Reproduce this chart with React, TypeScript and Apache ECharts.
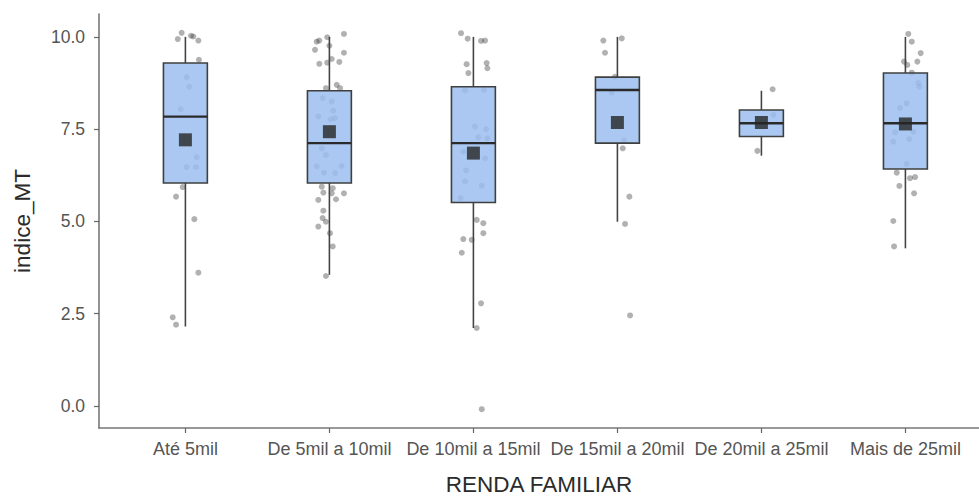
import React, { useEffect, useRef } from "react";
import * as echarts from "echarts";

const categories = ["Até 5mil", "De 5mil a 10mil", "De 10mil a 15mil", "De 15mil a 20mil", "De 20mil a 25mil", "Mais de 25mil"];
const yTicks = [0, 2.5, 5, 7.5, 10];

// box stats: [lower whisker, Q1, median, Q3, upper whisker]
const boxStats = [
  [2.15, 6.04, 7.84, 9.29, 10.0],
  [3.55, 6.04, 7.12, 8.54, 10.0],
  [2.11, 5.51, 7.12, 8.65, 10.0],
  [4.99, 7.12, 8.56, 8.91, 10.0],
  [6.78, 7.3, 7.66, 8.02, 8.54],
  [4.27, 6.42, 7.66, 9.02, 10.0],
];
const means = [7.21, 7.43, 6.85, 7.68, 7.68, 7.64];

// jittered observations (values) and horizontal jitter (in category units)
const pts1 = [10.11, 9.94, 10.03, 10.01, 9.9, 9.38, 8.91, 8.65, 8.04, 6.74, 6.47, 6.47, 5.93, 5.67, 5.06, 3.61, 2.4, 2.2];
const jit1 = [-0.026, -0.053, 0.039, 0.055, 0.09, 0.094, 0.009, 0.027, -0.033, 0.078, 0.009, 0.074, -0.019, -0.065, 0.062, 0.09, -0.088, -0.065];
const pts2 = [9.87, 9.9, 9.99, 10.08, 9.65, 9.76, 9.57, 9.27, 9.3, 9.4, 9.32, 8.61, 8.7, 8.61, 8.34, 8.25, 7.84, 8.0, 7.77, 7.8, 6.98, 6.8, 6.49, 6.5, 6.32, 6.31, 5.94, 5.9, 5.78, 5.76, 5.76, 5.58, 5.6, 5.29, 5.09, 4.99, 4.86, 4.68, 4.32, 3.52];
const jit2 = [-0.088, -0.07, -0.015, 0.101, -0.1, 0.0, 0.101, -0.07, -0.015, 0.016, 0.069, -0.024, 0.051, 0.074, -0.047, 0.016, -0.077, 0.027, 0.009, 0.039, -0.053, -0.024, -0.088, 0.085, -0.038, 0.039, -0.053, 0.023, -0.042, 0.016, 0.101, -0.077, 0.046, -0.042, -0.047, -0.024, -0.077, 0.004, 0.023, -0.024];
const pts3 = [10.1, 9.95, 9.89, 9.9, 9.26, 9.02, 9.29, 9.15, 8.55, 8.56, 7.57, 7.5, 7.28, 7.25, 6.89, 6.71, 6.38, 6.08, 5.97, 5.63, 5.04, 4.95, 4.68, 4.52, 4.5, 4.15, 2.78, 2.11, -0.09];
const jit3 = [-0.086, -0.04, 0.053, 0.081, -0.047, -0.035, 0.092, 0.097, -0.058, 0.074, 0.011, 0.088, 0.034, 0.097, -0.07, 0.081, -0.051, -0.058, 0.058, -0.088, 0.023, 0.069, 0.069, -0.07, -0.012, -0.081, 0.053, 0.023, 0.058];
const pts4 = [9.96, 9.9, 9.57, 8.92, 8.49, 7.19, 6.98, 5.67, 4.93, 2.45];
const jit4 = [0.03, -0.098, -0.086, -0.017, -0.04, 0.046, 0.037, 0.083, 0.053, 0.088];
const pts5 = [8.58, 7.89, 6.91];
const jit5 = [0.078, 0.083, -0.028];
const pts6 = [10.08, 9.87, 9.56, 9.33, 9.24, 9.33, 9.03, 8.75, 8.65, 8.2, 8.07, 7.43, 7.41, 7.23, 7.16, 6.56, 6.32, 6.17, 6.2, 5.96, 5.76, 5.01, 4.32];
const jit6 = [0.02, 0.044, 0.106, -0.01, 0.013, 0.083, 0.044, 0.09, 0.097, 0.009, -0.038, 0.055, -0.072, 0.027, -0.084, 0.009, -0.06, 0.032, 0.067, -0.042, 0.06, -0.084, -0.079];

const allPts = [pts1, pts2, pts3, pts4, pts5, pts6];
const allJit = [jit1, jit2, jit3, jit4, jit5, jit6];

const BOX_WIDTH = 0.305;
const FONT = "'Liberation Sans', Arial, sans-serif";

export default function App() {
  const ref = useRef<HTMLDivElement>(null);
  useEffect(() => {
    if (!ref.current) return;
    const chart = echarts.init(ref.current, null, { renderer: "svg" });

    const scatterData: number[][] = [];
    allPts.forEach((arr, i) => {
      arr.forEach((v, j) => scatterData.push([i + 1 + allJit[i][j], v]));
    });
    const boxData = boxStats.map((s, i) => [i + 1, ...s]);
    const meanData = means.map((m, i) => [i + 1, m]);

    const option: any = {
      animation: false,
      backgroundColor: "#ffffff",
      textStyle: { fontFamily: FONT },
      grid: { left: 99, right: 0, top: 14, bottom: 68, containLabel: false, outerBoundsMode: "none" },
      xAxis: {
        type: "value",
        min: 0.4,
        max: 6.511,
        name: "RENDA FAMILIAR",
        nameLocation: "middle",
        nameGap: 45,
        nameTextStyle: { fontSize: 22.5, color: "#2b2b2b", fontFamily: FONT },
        axisLine: { show: true, onZero: false, lineStyle: { color: "#777", width: 1.6 } },
        axisTick: { show: true, customValues: [1, 2, 3, 4, 5, 6], length: 5, lineStyle: { color: "#666", width: 1.2 } },
        axisLabel: {
          customValues: [1, 2, 3, 4, 5, 6],
          formatter: (v: number) => categories[Math.round(v) - 1],
          fontSize: 18,
          color: "#555",
          margin: 12,
          fontFamily: FONT,
        },
        splitLine: { show: false },
      },
      yAxis: {
        type: "value",
        min: -0.6,
        max: 10.62,
        name: "indice_MT",
        nameLocation: "middle",
        nameRotate: 90,
        nameGap: 65,
        nameTextStyle: { fontSize: 22.5, color: "#2b2b2b", fontFamily: FONT },
        axisLine: { show: true, onZero: false, lineStyle: { color: "#777", width: 1.6 } },
        axisTick: { show: true, customValues: yTicks, length: 5, lineStyle: { color: "#666", width: 1.2 } },
        axisLabel: {
          customValues: yTicks,
          formatter: (v: number) => v.toFixed(1),
          fontSize: 17.5,
          color: "#555",
          margin: 14,
          fontFamily: FONT,
        },
        splitLine: { show: false },
      },
      series: [
        {
          type: "scatter",
          data: scatterData,
          symbol: "circle",
          symbolSize: 6,
          itemStyle: { color: "rgba(40,40,40,0.45)" },
          z: 1,
        },
        {
          type: "custom",
          data: boxData,
          encode: { x: 0, y: [1, 2, 3, 4, 5] },
          z: 2,
          renderItem: (params: any, api: any) => {
            const x = api.value(0);
            const low = api.coord([x, api.value(1)]);
            const q1 = api.coord([x, api.value(2)]);
            const med = api.coord([x, api.value(3)]);
            const q3 = api.coord([x, api.value(4)]);
            const high = api.coord([x, api.value(5)]);
            const hw = api.size([BOX_WIDTH, 0])[0] / 2;
            const cx = q1[0];
            return {
              type: "group",
              children: [
                { type: "line", shape: { x1: cx, y1: high[1], x2: cx, y2: q3[1] }, style: { stroke: "#444", lineWidth: 1.6 } },
                { type: "line", shape: { x1: cx, y1: q1[1], x2: cx, y2: low[1] }, style: { stroke: "#444", lineWidth: 1.6 } },
                {
                  type: "rect",
                  shape: { x: cx - hw, y: q3[1], width: hw * 2, height: q1[1] - q3[1] },
                  style: { fill: "rgba(155,190,238,0.85)", stroke: "#3f3f3f", lineWidth: 1.6 },
                },
                { type: "line", shape: { x1: cx - hw, y1: med[1], x2: cx + hw, y2: med[1] }, style: { stroke: "#2a2a2a", lineWidth: 2.4 } },
              ],
            };
          },
        },
        {
          type: "scatter",
          data: meanData,
          symbol: "rect",
          symbolSize: 13,
          itemStyle: { color: "#262626" },
          z: 3,
        },
      ],
    };
    chart.setOption(option);
    return () => chart.dispose();
  }, []);
  return <div ref={ref} style={{ position: "fixed", left: 0, top: 0, width: 979, height: 496 }} />;
}
